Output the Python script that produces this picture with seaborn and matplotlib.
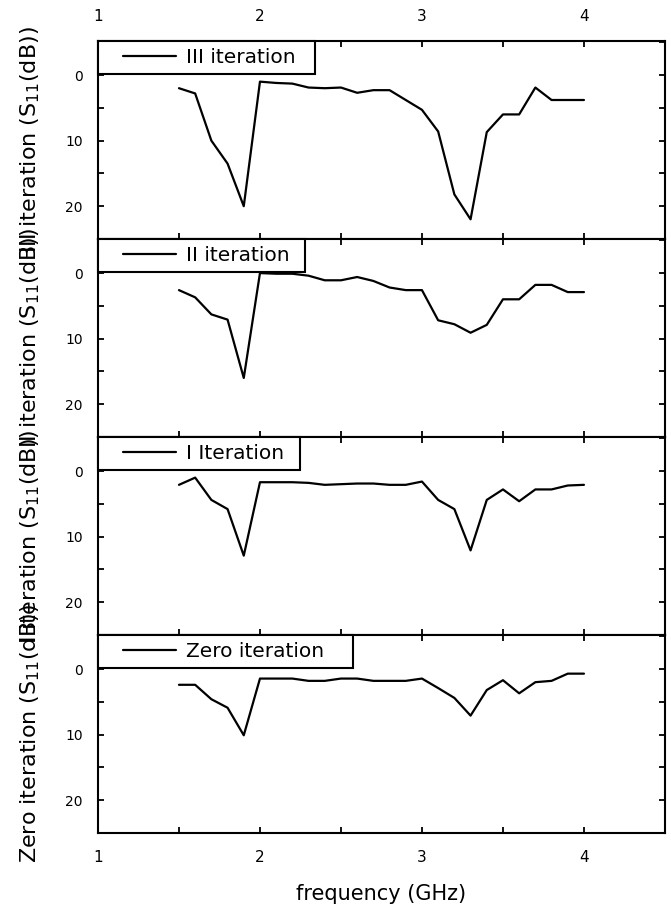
import numpy as np
import pandas as pd
import matplotlib
matplotlib.use("Agg")
import matplotlib.pyplot as plt
import seaborn as sns
from matplotlib.ticker import MultipleLocator, FixedLocator, FixedFormatter
from matplotlib.legend_handler import HandlerLine2D
from matplotlib.lines import Line2D

# ---- data ----
freq_ghz = [1.5, 1.6, 1.7, 1.8, 1.9, 2.0, 2.1, 2.2, 2.3, 2.4, 2.5, 2.6, 2.7,
            2.8, 2.9, 3.0, 3.1, 3.2, 3.3, 3.4, 3.5, 3.6, 3.7, 3.8, 3.9, 4.0]

s11_iter3 = [2.0, 2.8, 10.0, 13.5, 20.0, 1.0, 1.2, 1.3, 1.9, 2.0, 1.9, 2.7, 2.3,
             2.3, 3.8, 5.3, 8.6, 18.2, 22.0, 8.7, 6.0, 6.0, 1.9, 3.8, 3.8, 3.8]
s11_iter2 = [2.6, 3.7, 6.3, 7.1, 16.0, 0.0, 0.1, 0.1, 0.4, 1.1, 1.1, 0.6, 1.2,
             2.2, 2.6, 2.6, 7.2, 7.8, 9.1, 7.9, 4.0, 4.0, 1.8, 1.8, 2.9, 2.9]
s11_iter1 = [2.1, 1.0, 4.4, 5.8, 12.9, 1.7, 1.7, 1.7, 1.8, 2.1, 2.0, 1.9, 1.9,
             2.1, 2.1, 1.6, 4.4, 5.8, 12.1, 4.4, 2.8, 4.6, 2.8, 2.8, 2.2, 2.1]
s11_iter0 = [2.4, 2.4, 4.6, 5.9, 10.1, 1.45, 1.45, 1.45, 1.8, 1.8, 1.45, 1.45, 1.8,
             1.8, 1.8, 1.45, 2.9, 4.4, 7.1, 3.2, 1.7, 3.7, 2.0, 1.8, 0.7, 0.7]

panel_names = ["III iteration", "II iteration", "I Iteration", "Zero iteration"]
ylabel_names = ["III iteration", "II iteration", "I iteration", "Zero iteration"]
series = [s11_iter3, s11_iter2, s11_iter1, s11_iter0]
legend_widths = [0.383, 0.365, 0.356, 0.450]

x_ticks = [1, 2, 3, 4]
x_ticklabels = ["1", "2", "3", "4"]
y_ticks = [0, 10, 20]
y_ticklabels = ["0", "10", "20"]


class OffsetLineHandler(HandlerLine2D):
    """Legend line that starts a bit to the right inside the handle area."""
    def __init__(self, frac=0.25, **kw):
        super().__init__(**kw)
        self.frac = frac

    def create_artists(self, legend, orig_handle, xdescent, ydescent, width,
                       height, fontsize, trans):
        arts = super().create_artists(legend, orig_handle, xdescent, ydescent,
                                      width, height, fontsize, trans)
        for a in arts:
            xd = np.asarray(a.get_xdata(), dtype=float)
            if len(xd) >= 2:
                x0, x1 = xd.min(), xd.max()
                a.set_xdata(np.linspace(x0 + self.frac * (x1 - x0), x1, len(xd)))
        return arts


# ---- style ----
sns.set_style("ticks")
plt.rcParams["font.family"] = ["DejaVu Sans"]
plt.rcParams["mathtext.fontset"] = "dejavusans"
for k in ["text.color", "axes.labelcolor", "xtick.color", "ytick.color",
          "axes.edgecolor"]:
    plt.rcParams[k] = "black"

fig, axes = plt.subplots(4, 1, sharex=True, figsize=(6.71, 9.05), dpi=100)
fig.subplots_adjust(left=0.146, right=0.991, top=0.9547, bottom=0.0796, hspace=0)

for i, (ax, vals, name, yname, lw) in enumerate(
        zip(axes, series, panel_names, ylabel_names, legend_widths)):
    df = pd.DataFrame({"f": freq_ghz, "s": vals})
    sns.lineplot(data=df, x="f", y="s", ax=ax, color="black", linewidth=1.6,
                 legend=False)
    ax.set_xlim(1, 4.5)
    ax.set_ylim(25, -5.2)
    ax.yaxis.set_major_locator(FixedLocator(y_ticks))
    ax.yaxis.set_major_formatter(FixedFormatter(y_ticklabels))
    ax.yaxis.set_minor_locator(MultipleLocator(5))
    ax.xaxis.set_major_locator(FixedLocator(x_ticks))
    ax.xaxis.set_major_formatter(FixedFormatter(x_ticklabels))
    ax.xaxis.set_minor_locator(MultipleLocator(0.5))
    for sp in ax.spines.values():
        sp.set_visible(True)
        sp.set_linewidth(1.5)
        sp.set_color("black")
    ax.tick_params(which="both", direction="in", top=True, right=True,
                   bottom=True, left=True, width=1.3, length=4.5, color="black",
                   labelcolor="black")
    ax.tick_params(axis="y", which="major", labelsize=10, pad=11)
    ax.tick_params(axis="x", which="major", labelsize=11, pad=12,
                   labelbottom=(i == 3), labeltop=(i == 0))
    ax.set_xlabel("")
    ax.set_ylabel(yname + r" (S$_{11}$(dB))", fontsize=16, color="black")
    ax.yaxis.set_label_coords(-0.099, 0.5)

    handle = Line2D([], [], color="black", linewidth=1.6)
    leg = ax.legend([handle], [name], loc="upper left",
                    bbox_to_anchor=(0, 0, lw, 1), mode="expand",
                    borderaxespad=0, fancybox=False, fontsize=14.5, frameon=True,
                    handlelength=3.5, handletextpad=0.5, borderpad=0.35,
                    framealpha=1, labelcolor="black",
                    handler_map={Line2D: OffsetLineHandler(frac=0.25)})
    leg.get_frame().set_edgecolor("black")
    leg.get_frame().set_linewidth(1.5)

axes[3].set_xlabel("frequency (GHz)", fontsize=15, color="black")
axes[3].xaxis.set_label_coords(0.5, -0.26)

fig.savefig("out.png", dpi=100)
